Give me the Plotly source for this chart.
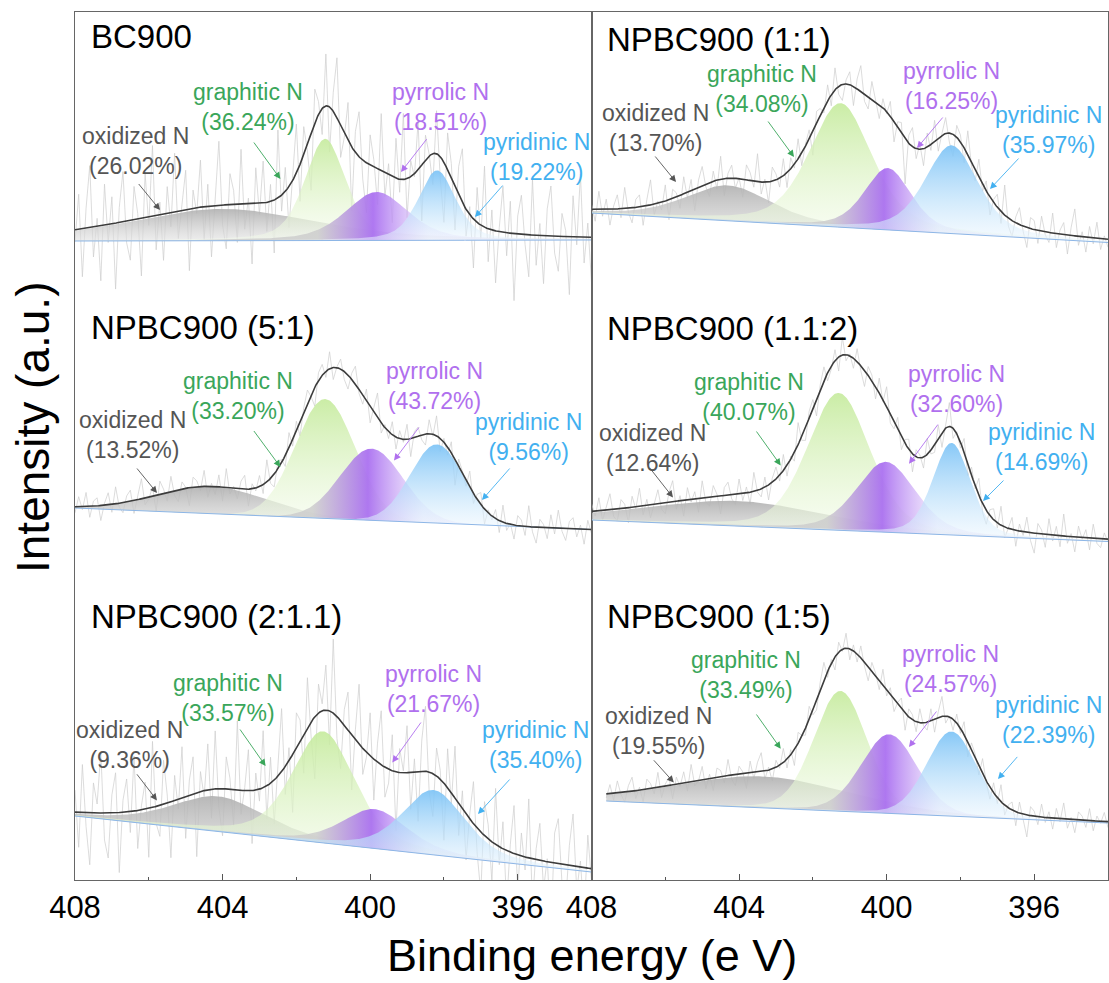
import numpy as np
import plotly.graph_objects as go

W, H = 1109, 983
ML, MR, MT, MB = 75, 1, 12, 103
PW, PH = W - ML - MR, H - MT - MB
E_HI, E_LO = 408.0, 394.0
STEP = 0.1
FONT = "Liberation Sans, Arial, sans-serif"

# ---------------- data ----------------
names = ["BC900", "NPBC900 (5:1)", "NPBC900 (2:1.1)", "NPBC900 (1:1)", "NPBC900 (1.1:2)", "NPBC900 (1:5)"]
col_of = [0, 0, 0, 1, 1, 1]
e_start = [408.0, 408.0, 408.0, 408.0, 408.0, 407.6]
base_start = [639, 372, 64, 667, 360, 79]
base_end = [640, 350.5, 8, 637.5, 338.5, 57]

species = ["oxidized", "graphitic", "pyrrolic", "pyridinic"]
pct = {
    "oxidized": ["26.02", "13.52", "9.36", "13.70", "12.64", "19.55"],
    "graphitic": ["36.24", "33.20", "33.57", "34.08", "40.07", "33.49"],
    "pyrrolic": ["18.51", "43.72", "21.67", "16.25", "32.60", "24.57"],
    "pyridinic": ["19.22", "9.56", "35.40", "35.97", "14.69", "22.39"],
}
center = {
    "oxidized": [404.02, 404.30, 404.11, 404.30, 404.04, 403.36],
    "graphitic": [401.22, 401.22, 401.27, 401.25, 401.30, 401.25],
    "pyrrolic": [399.82, 399.96, 399.87, 399.97, 400.02, 399.93],
    "pyridinic": [398.19, 398.19, 398.28, 398.24, 398.24, 398.24],
}
height = {
    "oxidized": [31.8, 27.2, 35.2, 35.4, 25.1, 31.4],
    "graphitic": [101.7, 119.3, 111.7, 124.1, 137.4, 120.3],
    "pyrrolic": [48.5, 71.7, 39.4, 61.9, 70.4, 79.1],
    "pyridinic": [69.9, 78.7, 64.9, 88.2, 92.1, 84.7],
}
fwhm = {
    "oxidized": [6.0, 3.5, 3.0, 2.75, 5.75, 5.5],
    "graphitic": [1.3, 1.9, 2.0, 2.0, 2.0, 1.7],
    "pyrrolic": [2.0, 2.0, 2.1, 1.5, 1.9, 1.8],
    "pyridinic": [1.2, 1.7, 2.0, 1.7, 1.2, 1.6],
}
lorentz_frac = [0.45, 0.0, 0.45, 0.45, 0.3, 0.15]

resid = [
    [-12, 35, -48, 20, 62, -30, 8, -55, 41, -18, 27, -66, 15, 50, -22, -40, 33, 5, -58, 44, -9, 70, -35, 12, -47, 26, -15, 58, -28, 3, 39, -62, 18, -6, 47, -33, 22, -51, 9, 64, -20, -44, 31, 14, -38, 55, -25, 6, -60, 36, -11, 42, -29, 17, -53, 68, -16, 24, -41, 10, 49, -37, 28, -7, -57, 34, 13, -26, 52, -45, 19, 60, -32, -4, 38, -64, 21, 45, -19, -50, 30, 7, -36, 57, -24, 11, -46, 40, -13, 66, -39, 16, -3, 48, -56, 25, 2, -31, 43, -21, -60, 37, 15, -43, 29, 54, -27, 8, -49, 35, -14, 61, -33, 20, -52, 4, 46, -23, 32, -67, 18, 39, -10, -42, 56, -30, 12, -48, 27, 50, -17, -35, 23, 6, -58, 41, -8, 63, -26, 14, -45],
    [-6, 10, -3, 14, -11, 5, 8, -15, 2, 12, -8, 17, -4, -10, 6, 11, -13, 3, 20, -7, -2, 9, -16, 13, 4, -9, 15, -5, -12, 7, 1, -18, 10, 6, -4, 16, -11, 3, -8, 12, -14, 19, -6, 2, -10, 8, 14, -17, 5, -3, 11, -9, 22, -5, -13, 7, 3, -11, 15, -7, 9, -15, 4, 13, -2, -19, 8, 11, -6, 17, -12, 1, 10, -8, -14, 6, 18, -4, -9, 12, -16, 5, 25, -10, 3, -7, 13, -12, 8, -3, 15, -18, 6, 9, -5, -11, 14, -2, 20, -13, 4, -8, 11, -26, 7, 2, -6, 16, -10, 5, 12, -15, 3, -4, 9, -12, 17, -7, 1, -14, 10, 6, -9, 21, -5, -16, 8, 3, -11, 13, -6, 18, -3, -12, 7, 11, -8, 4, -15, 9, -4],
    [22, -35, 48, -14, -52, 30, 9, 61, -27, -45, 18, 40, -60, 12, 33, -21, 55, -38, 4, 27, -49, 66, -17, -31, 44, 8, -56, 25, -10, 51, -42, 15, 37, -64, 20, -6, 46, -29, 58, -19, -47, 32, 11, -36, 69, -24, 3, 41, -53, 17, -12, 57, -33, 26, -44, 6, 63, -28, 13, -58, 35, 21, -39, 50, -15, -62, 29, 7, 45, -34, 74, -22, -48, 16, 38, -55, 10, 60, -26, -5, 43, -41, 19, 54, -30, -14, 36, -59, 24, 2, 47, -37, 13, -50, 31, 65, -20, -43, 28, 9, -57, 39, -11, 52, -32, 18, -46, 5, 42, -25, -61, 34, 14, -40, 56, -18, 27, -54, 8, 48, -35, 23, -13, 59, -45, 11, 37, -28, 3, -66, 30, 45, -19, -38, 20, 52, -24, 6, -49, 33, -12],
    [5, -12, 18, -7, 10, -16, 3, 14, -9, 21, -4, -15, 8, 12, -19, 6, 25, -11, 2, -8, 16, -20, 9, 4, -13, 17, -6, 11, -22, 7, 19, -3, -14, 10, -9, 23, -17, 5, 13, -10, 1, -18, 15, 8, -6, 28, -12, 3, -21, 14, 6, -9, 17, -15, 11, -4, 20, -13, 2, 9, -24, 12, 7, -5, 16, -11, 22, -8, -16, 4, 13, -19, 10, 26, -7, -12, 18, 3, -14, 9, -2, 15, -20, 6, 11, -45, 8, 19, -10, 5, -17, 14, -6, 21, -13, 2, 16, -9, -22, 12, 7, -15, 24, -4, -11, 18, -7, 10, -18, 3, 13, -12, 30, -8, -16, 6, 17, -5, -20, 11, 9, -13, 15, -3, -10, 20, -14, 4, 12, -19, 8, 27, -9, 5, -15, 11, -6, 16, -11, 3, -8],
    [8, -5, 13, -10, 3, 16, -7, -12, 9, 4, -15, 11, -2, 18, -9, 6, -13, 2, 14, -6, -11, 10, 21, -8, 5, -16, 12, -3, 7, -14, 17, -5, -9, 11, 2, -18, 8, 13, -4, -10, 15, -7, 6, -12, 19, -2, -8, 10, -15, 4, 12, -6, 16, -11, 3, -9, 22, -4, -13, 7, 9, -17, 5, 14, -8, -3, 11, -14, 18, -6, 2, -10, 13, -5, -16, 9, 6, -12, 15, -2, 20, -9, -7, 12, -13, 4, 10, -18, 7, 3, -11, 16, -4, -8, 13, -15, 5, 24, -10, 2, -6, 14, -12, 8, -3, 17, -9, -14, 6, 11, -5, 19, -11, 1, 12, -16, 7, -4, 15, -8, -20, 10, 4, -13, 16, -6, 9, -11, 22, -7, 3, -15, 11, -2, 8, -12, 14, -5, -9, 6, -3],
    [-4, 9, -7, 12, -2, -10, 6, 14, -8, 3, -12, 10, 5, -6, 15, -11, 2, 8, -14, 7, -3, 11, -9, 17, -5, -1, 13, -10, 4, -13, 9, 6, -7, 16, -4, -11, 8, 2, -15, 12, -6, 10, 19, -8, 3, -12, 7, -3, 14, -9, 5, -16, 11, 1, -7, 13, -5, -10, 8, 18, -6, 4, -13, 10, -2, 15, -11, 6, -8, 12, -4, -14, 9, 3, -9, 16, -6, 7, -12, 2, 11, -17, 8, 5, -10, 14, -3, -8, 12, -13, 6, 20, -7, 1, -11, 9, -5, 13, -15, 7, 4, -9, 15, -2, -12, 10, -6, 17, -10, 3, 8, -14, 11, -4, -22, 9, 5, -8, 13, -5, 6, -11, 10, -3, 16, -9, 2, -13, 8, 4, -7, 12, -10, 5, -2, 9, -6],
]

tick_vals = [408, 404, 400, 396]
minor_vals = [406, 402, 398]

# ---------------- layout helpers (pixel positions of labels) ----------------
panel_label_px = [(89, 37), (89, 327), (89, 616), (605, 39), (605, 329), (605, 616)]
# (label centre), (arrow tail), (arrow head) in pixels
label_px = {
    "oxidized": [((135, 150.5), (137.5, 182.5), (160, 210)), ((132, 435), (135.8, 467), (157, 493)),
                 ((129, 744.5), (135.8, 772.8), (157, 800.4)), ((655, 128.5), (654, 155), (676, 182)),
                 ((652, 448.5), (649, 467), (673, 497.5)), ((658.5, 731), (652.5, 758.8), (673.8, 782.4))],
    "graphitic": [((248, 107.5), (252.8, 141), (280.4, 179)), ((238, 396), (252.8, 429.5), (280.4, 467)),
                  ((228, 698), (239, 728), (265.6, 766)), ((762, 88.5), (767, 120), (794, 157)),
                  ((749, 397), (755.4, 430), (780.7, 465.4)), ((746, 675), (755.4, 713), (780.7, 748.7))],
    "pyrrolic": [((440, 107.5), (427.8, 137.7), (401, 172)), ((434, 386.5), (420, 426), (394, 460.5)),
                 ((433.5, 688.5), (422, 721), (392.3, 762.5)), ((951, 86), (944, 116), (917, 148)),
                 ((956.5, 389.4), (939, 423), (909, 463.7)), ((950.5, 669), (937.6, 710), (909, 747))],
    "pyridinic": [((536, 156.5), (504, 184), (475, 217)), ((528, 437), (511, 467), (482, 500)),
                  ((535, 744.5), (511, 778), (478, 814)), ((1048, 130), (1020, 157), (990, 189)),
                  ((1041, 447), (1005, 479), (983, 501)), ((1048.5, 720), (1018.6, 755.4), (998, 779))],
}
text_color = {"oxidized": "#555555", "graphitic": "#3aa65a", "pyrrolic": "#b070ee", "pyridinic": "#42b0f0"}
label_word = {"oxidized": "oxidized N", "graphitic": "graphitic N", "pyrrolic": "pyrrolic N", "pyridinic": "pyridinic N"}


def px2paper(x, y):
    return (x - ML) / PW, (MT + PH - y) / PH


def base_at(p, E):
    return base_start[p] + (base_end[p] - base_start[p]) * (e_start[p] - E) / (e_start[p] - E_LO)


def peak(E, p, s):
    eta = lorentz_frac[p]
    d = (E - center[s][p]) / fwhm[s][p]
    return height[s][p] * ((1 - eta) * np.exp(-4 * np.log(2) * d * d) + eta / (1 + 4 * d * d))


def envelope(E, p):
    return base_at(p, E) + sum(peak(E, p, s) for s in species)


fig = go.Figure()
fill_grad = {
    "oxidized": dict(type="vertical", colorscale=[[0, "rgba(226,226,226,0.6)"], [1, "rgba(176,176,176,0.9)"]]),
    "graphitic": dict(type="vertical", colorscale=[[0, "rgba(244,251,236,0.5)"], [1, "rgba(198,235,158,0.92)"]]),
    "pyridinic": dict(type="vertical", colorscale=[[0, "rgba(238,247,254,0.5)"], [1, "rgba(124,195,246,0.92)"]]),
}

for p in range(6):
    xa = "x" if col_of[p] == 0 else "x2"
    ya = "y" if col_of[p] == 0 else "y2"
    Ef = np.linspace(e_start[p], E_LO, 701)
    bf = base_at(p, Ef)
    r = np.array(resid[p], float)
    Er = e_start[p] - STEP * np.arange(len(r))
    keep = Er >= E_LO - 1e-9
    Er, r = Er[keep], r[keep]

    fig.add_trace(go.Scatter(x=Er, y=envelope(Er, p) + r, mode="lines", line=dict(color="#cdcdcd", width=0.7),
                             xaxis=xa, yaxis=ya, hoverinfo="skip"))
    for s in species:
        comp = peak(Ef, p, s)
        xs = np.concatenate([Ef, Ef[::-1]])
        ys = np.concatenate([bf + comp, bf[::-1]])
        if s == "pyrrolic":
            c = center[s][p]
            fg = dict(type="horizontal", start=c + 1.6, stop=c - 1.4,
                      colorscale=[[0, "rgba(205,205,205,0.85)"], [0.5, "rgba(168,108,240,0.92)"],
                                  [1, "rgba(236,226,251,0.6)"]])
        else:
            fg = fill_grad[s]
        fig.add_trace(go.Scatter(x=xs, y=ys, mode="lines", line=dict(width=0), fill="toself", fillgradient=fg,
                                 xaxis=xa, yaxis=ya, hoverinfo="skip"))
    fig.add_trace(go.Scatter(x=Ef, y=bf, mode="lines", line=dict(color="#8db6e6", width=1),
                             xaxis=xa, yaxis=ya, hoverinfo="skip"))
    fig.add_trace(go.Scatter(x=Ef, y=envelope(Ef, p), mode="lines", line=dict(color="#3c3c3c", width=1.6),
                             xaxis=xa, yaxis=ya, hoverinfo="skip"))

    # panel name
    px, py = px2paper(*panel_label_px[p])
    fig.add_annotation(text=names[p], xref="paper", yref="paper", x=px, y=py, xanchor="left", yanchor="middle",
                       showarrow=False, font=dict(family=FONT, size=33, color="black"))
    # component labels with arrows
    for s in species:
        (cx, cy), (tx, ty), (hx, hy) = label_px[s][p]
        lx, ly = px2paper(cx, cy)
        fig.add_annotation(text=f"{label_word[s]}<br>({pct[s][p]}%)", xref="paper", yref="paper", x=lx, y=ly,
                           xanchor="center", yanchor="middle", align="center", showarrow=False,
                           font=dict(family=FONT, size=23, color=text_color[s]))
        ax_, ay_ = px2paper(hx, hy)
        fig.add_annotation(text="", xref="paper", yref="paper", x=ax_, y=ay_, ax=tx - hx, ay=ty - hy,
                           axref="pixel", ayref="pixel", showarrow=True, arrowhead=2, arrowsize=1.5,
                           arrowwidth=0.9, arrowcolor=text_color[s])

# axis titles
tx, ty = px2paper(33, 428)
fig.add_annotation(text="Intensity (a.u.)", xref="paper", yref="paper", x=tx, y=ty, textangle=-90,
                   xanchor="center", yanchor="middle", showarrow=False, font=dict(family=FONT, size=46, color="black"))
tx, ty = px2paper(592, 955)
fig.add_annotation(text="Binding energy (e V)", xref="paper", yref="paper", x=tx, y=ty,
                   xanchor="center", yanchor="middle", showarrow=False, font=dict(family=FONT, size=45, color="black"))

axis_common = dict(showline=True, mirror=True, linecolor="#666666", linewidth=1.2, showgrid=False, zeroline=False)
xcommon = dict(range=[E_HI, E_LO], tickvals=tick_vals, ticks="inside", ticklen=6, tickcolor="#555555",
               minor=dict(tickvals=minor_vals, ticks="inside", ticklen=3, tickcolor="#555555"),
               tickfont=dict(family=FONT, size=31, color="black"), **axis_common)
fig.update_layout(
    width=W, height=H, margin=dict(l=ML, r=MR, t=MT, b=MB), paper_bgcolor="white", plot_bgcolor="white",
    showlegend=False,
    xaxis=dict(domain=[0, 0.5], anchor="y", **xcommon),
    xaxis2=dict(domain=[0.5, 1], anchor="y2", **xcommon),
    yaxis=dict(domain=[0, 1], range=[0, PH], anchor="x", showticklabels=False, ticks="", **axis_common),
    yaxis2=dict(domain=[0, 1], range=[0, PH], anchor="x2", showticklabels=False, ticks="", **axis_common),
)
fig.write_html("out.html")
